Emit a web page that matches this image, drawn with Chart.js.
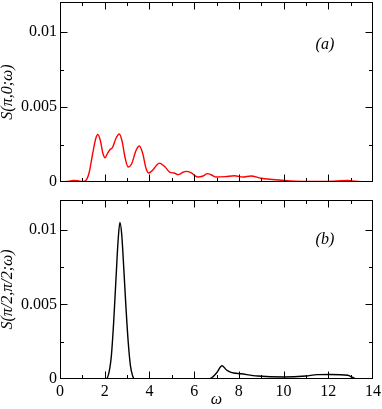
<!DOCTYPE html>
<html><head><meta charset="utf-8">
<script src="https://cdn.jsdelivr.net/npm/chart.js@4/dist/chart.umd.min.js"></script>
<style>
html,body{margin:0;padding:0;background:#fff;width:382px;height:409px;overflow:hidden;font-family:"Liberation Serif",serif}
canvas{position:absolute;left:0}
#c1{top:0}
#c2{top:190px}
</style></head><body>
<canvas id="c1" width="382" height="192" style="width:382px;height:192px"></canvas>
<canvas id="c2" width="382" height="219" style="width:382px;height:219px"></canvas>
<script>
// Panel (a): S(pi,0;omega)
const omegaA = [0,0.3,0.6,0.8,1.0,1.15,1.3,1.45,1.6,1.69,1.8,1.92,2.02,2.12,2.24,2.35,2.5,2.65,2.78,2.9,3.05,3.2,3.4,3.55,3.7,3.85,3.97,4.15,4.45,4.7,4.92,5.1,5.29,5.5,5.64,5.86,6.16,6.4,6.6,6.8,6.98,7.4,7.8,8.17,8.54,8.99,10.03,10.9,11.8,12.4,12.87,13.2,13.6,14];
const sA = [0,0.00003,0.0001,0.00008,0.00003,0.0001,0.0006,0.0018,0.0029,0.00317,0.0028,0.0019,0.00162,0.0019,0.00217,0.0023,0.0029,0.0032,0.0027,0.0017,0.0010,0.0012,0.0021,0.0024,0.0019,0.0009,0.0006,0.0008,0.00126,0.0010,0.00064,0.0006,0.00049,0.00065,0.00071,0.00062,0.00033,0.0004,0.00056,0.00045,0.00033,0.00036,0.00042,0.00033,0.0004,0.00025,0.0001,0.00004,0.00004,0.00007,0.0001,0.00005,0,0];
// Panel (b): S(pi/2,pi/2;omega)
const omegaB = [0,2.05,2.2,2.3,2.4,2.5,2.6,2.68,2.76,2.85,2.95,3.05,3.15,3.25,3.35,6.6,6.8,7.0,7.25,7.45,7.65,8.1,8.84,10.03,11.0,11.5,12.1,12.87,13.1,13.3,14];
const sB = [0,0,0.0005,0.0016,0.0038,0.0066,0.0093,0.0105,0.0097,0.0075,0.0048,0.0025,0.0009,0.0002,0,0,0.0001,0.0004,0.00089,0.0006,0.00044,0.00035,0.0002,0.00013,0.0002,0.00029,0.0003,0.00025,0.0001,0,0];
const yTickValues = [0, 0.005, 0.01];
const xTickLabels = ['0','2','4','6','8','10','12','14'];

const FONT = '"Liberation Serif", "Times New Roman", serif';

const frame = {
  id: 'frame',
  afterDraw(chart, args, opts) {
    const {ctx, chartArea: a, scales: {x, y}} = chart;
    ctx.save();
    ctx.strokeStyle = '#000';
    ctx.lineWidth = 1;
    const L = Math.round(a.left) + 0.5, R = Math.round(a.right) - 0.5;
    const T = Math.round(a.top) + 0.5, B = Math.round(a.bottom) - 0.5;
    ctx.strokeRect(L, T, R - L, B - T);
    ctx.beginPath();
    for (let v = 1; v < 14; v++) {
      const px = Math.round(x.getPixelForValue(v)) + 0.5;
      const len = v % 2 === 0 ? 7 : 3.5;
      ctx.moveTo(px, B); ctx.lineTo(px, B - len);
      ctx.moveTo(px, T); ctx.lineTo(px, T + len);
    }
    [0.0025, 0.005, 0.0075, 0.01].forEach(v => {
      const py = Math.round(y.getPixelForValue(v)) + 0.5;
      const len = Math.abs(v / 0.005 - Math.round(v / 0.005)) < 1e-9 ? 7 : 3.5;
      ctx.moveTo(L, py); ctx.lineTo(L + len, py);
      ctx.moveTo(R, py); ctx.lineTo(R - len, py);
    });
    ctx.stroke();
    ctx.fillStyle = '#000';
    ctx.font = 'italic 16px ' + FONT;
    ctx.textAlign = 'center';
    ctx.textBaseline = 'middle';
    ctx.fillText(opts.label, x.getPixelForValue(opts.lx), y.getPixelForValue(opts.ly));
    ctx.restore();
  }
};

function zeroPad(s) { s.paddingTop = 0; s.paddingBottom = 0; s.paddingLeft = 0; s.paddingRight = 0; }

function makeChart(id, xs, ys, color, yTitle, showX, label, lx, ly, padTop, xHeight) {
  return new Chart(document.getElementById(id), {
    type: 'line',
    data: {
      datasets: [{
        data: xs.map((w, i) => ({x: w, y: ys[i]})),
        borderColor: color, borderWidth: 1.4, pointRadius: 0,
        cubicInterpolationMode: 'monotone', fill: false
      }]
    },
    options: {
      responsive: false, animation: false, devicePixelRatio: 1,
      layout: {padding: {top: padTop, right: 9, left: 0, bottom: 0}},
      plugins: {legend: {display: false}, tooltip: {enabled: false},
        frame: {label: label, lx: lx, ly: ly}},
      scales: {
        x: {
          type: 'linear', min: 0, max: 14,
          afterBuildTicks(s) { s.ticks = xTickLabels.map(t => ({value: Number(t)})); },
          afterFit(s) { s.height = xHeight; zeroPad(s); },
          grid: {display: false, drawTicks: false}, border: {display: false},
          ticks: {display: showX, font: {family: FONT, size: 16}, color: '#000', padding: 3, maxRotation: 0,
            callback: v => String(v)},
          title: {display: showX, text: 'ω', color: '#000',
            font: {family: FONT, size: 16, style: 'italic', lineHeight: 1}, padding: {top: 0, bottom: 1}}
        },
        y: {
          type: 'linear', min: 0, max: 0.012,
          afterBuildTicks(s) { s.ticks = yTickValues.map(v => ({value: v})); },
          afterFit(s) { s.width = 60; zeroPad(s); },
          grid: {display: false, drawTicks: false}, border: {display: false},
          ticks: {font: {family: FONT, size: 16}, color: '#000', padding: 3,
            callback: v => v === 0 ? '0' : String(v)},
          title: {display: true, text: yTitle, color: '#000',
            font: {family: FONT, size: 16, style: 'italic', lineHeight: 1}, padding: 0}
        }
      }
    },
    plugins: [frame]
  });
}

function build() {
  makeChart('c1', omegaA, sA, '#ff0000', 'S(π,0;ω)', false, '(a)', 11.85, 0.00914, 2, 10);
  makeChart('c2', omegaB, sB, '#000000', 'S(π/2,π/2;ω)', true, '(b)', 11.85, 0.00935, 10, 30);
}
Promise.all([
  document.fonts.load('16px "Liberation Serif"'),
  document.fonts.load('italic 16px "Liberation Serif"')
]).then(build, build);
</script>
</body></html>
